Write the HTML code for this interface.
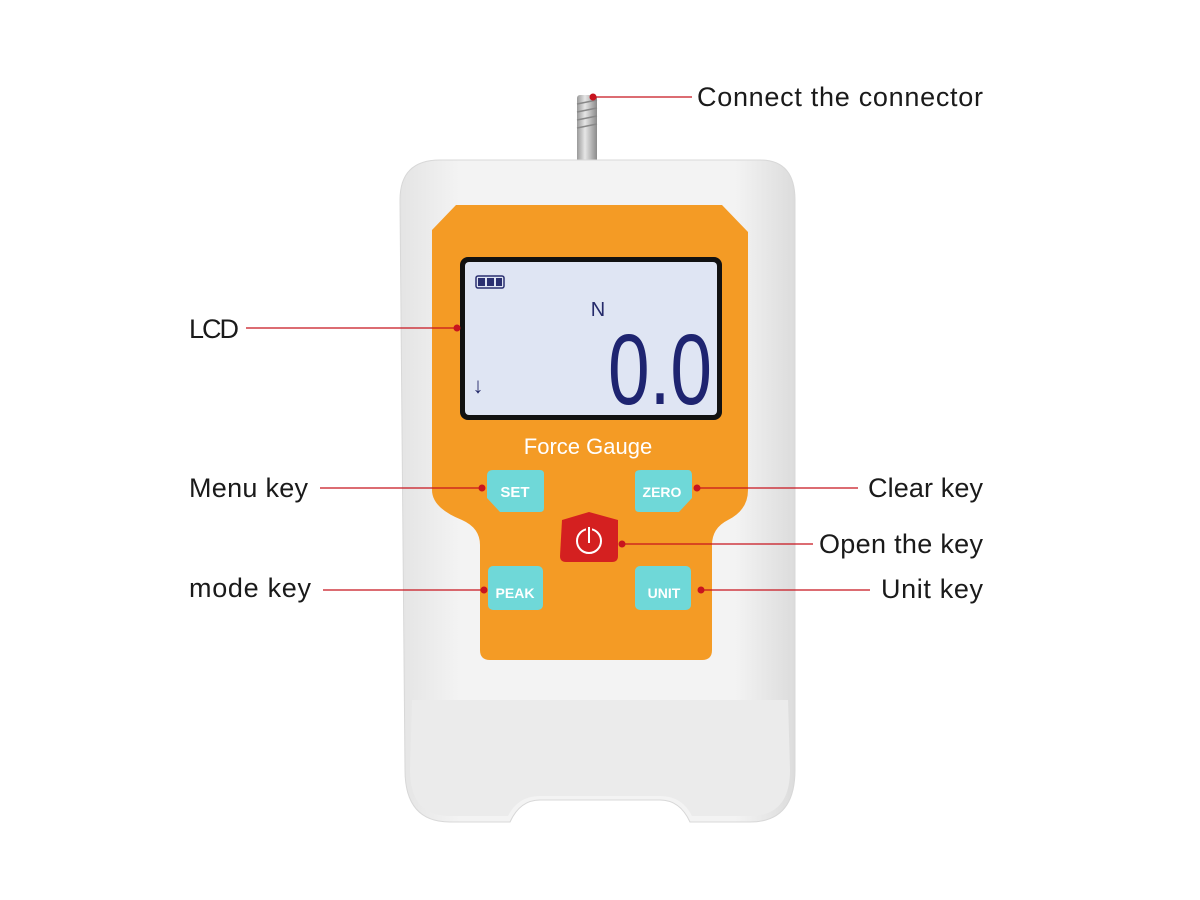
<!DOCTYPE html>
<html><head><meta charset="utf-8"><style>
html,body{margin:0;padding:0;background:#fff;}
svg{display:block}
text{font-family:"Liberation Sans",sans-serif;}
</style></head><body>
<svg width="1200" height="900" viewBox="0 0 1200 900" xmlns="http://www.w3.org/2000/svg">
<defs>
<linearGradient id="scr" x1="0" x2="1"><stop offset="0" stop-color="#9a9a9a"/><stop offset="0.4" stop-color="#e6e6e6"/><stop offset="1" stop-color="#8a8a8a"/></linearGradient>
<linearGradient id="bd" x1="0" x2="1"><stop offset="0" stop-color="#e4e4e4"/><stop offset="0.15" stop-color="#f3f3f3"/><stop offset="0.85" stop-color="#f3f3f3"/><stop offset="1" stop-color="#dcdcdc"/></linearGradient>
</defs>
<rect x="577" y="95" width="20" height="68" rx="3" fill="url(#scr)"/>
<g stroke="#888" stroke-width="1.5">
<line x1="577" y1="104" x2="597" y2="100"/><line x1="577" y1="112" x2="597" y2="108"/><line x1="577" y1="120" x2="597" y2="116"/><line x1="577" y1="128" x2="597" y2="124"/>
</g>
<path d="M440 160 L760 160 Q795 160 795 200 L795 770 Q795 822 750 822 L690 822 Q680 800 660 800 L540 800 Q520 800 510 822 L450 822 Q405 822 405 770 L400 200 Q400 160 440 160 Z" fill="url(#bd)" stroke="#d8d8d8"/>
<path d="M412 700 L788 700 L790 770 Q790 816 750 816 L692 816 Q682 796 660 796 L540 796 Q518 796 508 816 L450 816 Q410 816 410 770 Z" fill="#ebebeb"/>
<path d="M456 205 L722 205 L748 232 L748 490 Q748 510 728 520 Q712 528 712 545 L712 650 Q712 660 702 660 L490 660 Q480 660 480 650 L480 545 Q480 528 462 520 Q432 508 432 490 L432 230 Z" fill="#f49b25"/>
<rect x="460" y="257" width="262" height="163" rx="8" fill="#111"/>
<rect x="465" y="262" width="252" height="153" rx="4" fill="#dfe5f3"/>
<rect x="476" y="276" width="28" height="12" rx="2" fill="none" stroke="#2a2f70" stroke-width="1.5"/>
<rect x="478" y="278" width="7" height="8" fill="#2a2f70"/><rect x="487" y="278" width="7" height="8" fill="#2a2f70"/><rect x="496" y="278" width="6" height="8" fill="#2a2f70"/>
<text x="598" y="316" font-size="20" fill="#252a6a" text-anchor="middle">N</text>
<text x="478" y="393" font-size="22" fill="#252a6a" text-anchor="middle">↓</text>
<text x="608" y="404" font-size="100" fill="#1e2470" textLength="104" lengthAdjust="spacingAndGlyphs">0.0</text>
<text x="588" y="454" font-size="22" fill="#fff" text-anchor="middle">Force Gauge</text>
<g font-size="15" font-weight="bold" fill="#fff" text-anchor="middle">
<path d="M493 470 L540 470 Q544 470 544 474 L544 508 Q544 512 540 512 L500 512 L487 498 L487 476 Q487 470 493 470Z" fill="#6fd8d8"/>
<text x="515" y="497">SET</text>
<path d="M641 470 L688 470 Q692 470 692 476 L692 498 L679 512 L639 512 Q635 512 635 508 L635 474 Q635 470 641 470Z" fill="#6fd8d8"/>
<text x="662" y="497" font-size="14">ZERO</text>
<rect x="488" y="566" width="55" height="44" rx="5" fill="#6fd8d8"/>
<text x="515" y="598" font-size="14">PEAK</text>
<rect x="635" y="566" width="56" height="44" rx="5" fill="#6fd8d8"/>
<text x="664" y="598" font-size="14">UNIT</text>
</g>
<path d="M562 520 L589 512 L618 520 L618 556 Q618 562 612 562 L566 562 Q560 562 560 556 Z" fill="#d42020"/>
<circle cx="589" cy="541" r="12" fill="none" stroke="#fff" stroke-width="2"/>
<line x1="589" y1="526" x2="589" y2="543" stroke="#d42020" stroke-width="6"/>
<line x1="589" y1="527" x2="589" y2="543" stroke="#fff" stroke-width="2"/>
<g stroke="#c8141e" stroke-width="1.3">
<line x1="593" y1="97" x2="692" y2="97"/>
<line x1="246" y1="328" x2="457" y2="328"/>
<line x1="320" y1="488" x2="482" y2="488"/>
<line x1="697" y1="488" x2="858" y2="488"/>
<line x1="622" y1="544" x2="813" y2="544"/>
<line x1="323" y1="590" x2="484" y2="590"/>
<line x1="701" y1="590" x2="870" y2="590"/>
</g>
<g fill="#c8141e">
<circle cx="593" cy="97" r="3.5"/><circle cx="457" cy="328" r="3.5"/><circle cx="482" cy="488" r="3.5"/>
<circle cx="697" cy="488" r="3.5"/><circle cx="622" cy="544" r="3.5"/><circle cx="484" cy="590" r="3.5"/><circle cx="701" cy="590" r="3.5"/>
</g>
<g font-size="27" fill="#1a1a1a" lengthAdjust="spacingAndGlyphs">
<text x="697" y="106" textLength="286">Connect the connector</text>
<text x="189" y="338" textLength="50">LCD</text>
<text x="189" y="497" textLength="119">Menu key</text>
<text x="189" y="597" textLength="122">mode key</text>
<text x="868" y="497" textLength="115">Clear key</text>
<text x="819" y="553" textLength="164">Open the key</text>
<text x="881" y="598" textLength="102">Unit key</text>
</g>
</svg>
</body></html>
